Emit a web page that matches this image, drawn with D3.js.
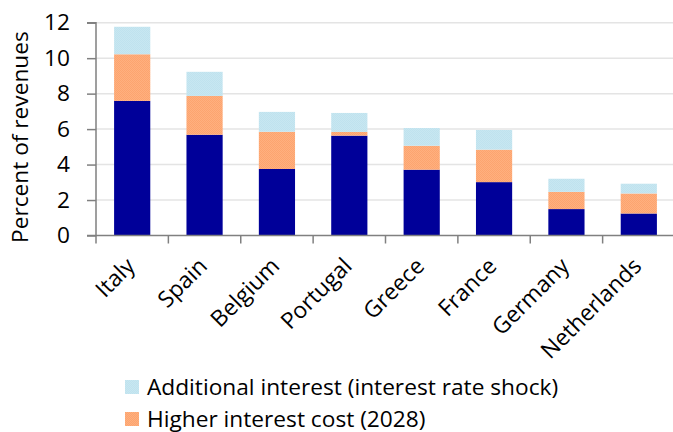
<!DOCTYPE html>
<html>
<head>
<meta charset="utf-8">
<script src="https://cdn.jsdelivr.net/npm/d3@7"></script>
<style>
  body { margin: 0; background: #fff; }
  svg { display: block; font-family: "Open Sans", "Noto Sans", sans-serif; }
</style>
</head>
<body>
<svg id="chart" width="673" height="432"></svg>
<script>
// Interest burden as a share of revenues, by country
const countries = ["Italy", "Spain", "Belgium", "Portugal", "Greece", "France", "Germany", "Netherlands"];
const currentInterest = [7.59, 5.68, 3.75, 5.63, 3.71, 3.01, 1.49, 1.24];
const higherCost2028 = [2.63, 2.19, 2.10, 0.21, 1.35, 1.83, 0.97, 1.13];
const additionalShock = [1.55, 1.36, 1.12, 1.07, 1.00, 1.11, 0.74, 0.55];
const yTicks = [0, 2, 4, 6, 8, 10, 12];
const legendLabels = ["Additional interest (interest rate shock)", "Higher interest cost (2028)"];

const svg = d3.select("#chart");
const W = 673, H = 432;
const plotLeft = 96, plotRight = 675, plotTop = 22.7, plotBottom = 235.5;
const FS = 22.7;

const x = d3.scaleBand().domain(countries).range([plotLeft, plotRight]).paddingInner(0.5).paddingOuter(0.25);
const y = d3.scaleLinear().domain([0, 12]).range([plotBottom, plotTop]);

// Dithered fills
const defs = svg.append("defs");
function dither(id, a, b) {
  const p = defs.append("pattern").attr("id", id).attr("width", 2).attr("height", 2)
    .attr("patternUnits", "userSpaceOnUse");
  p.append("rect").attr("width", 2).attr("height", 2).attr("fill", a);
  p.append("rect").attr("width", 1).attr("height", 1).attr("fill", b);
  p.append("rect").attr("x", 1).attr("y", 1).attr("width", 1).attr("height", 1).attr("fill", b);
}
dither("ditherCyan", "#c8e7f1", "#bfe2ee");
dither("ditherOrange", "#ffb07f", "#fca46f");

// Gridlines
svg.append("g").selectAll("line").data(yTicks.filter(d => d > 0)).join("line")
  .attr("x1", plotLeft).attr("x2", W)
  .attr("y1", d => y(d)).attr("y2", d => y(d))
  .attr("stroke", "#e4e4e4").attr("stroke-width", 1.5);

// Stacked bars
const stackData = countries.map((c, i) => ({
  country: c, base: currentInterest[i], higher: higherCost2028[i], shock: additionalShock[i]
}));
const series = d3.stack().keys(["base", "higher", "shock"])(stackData);
const fills = { base: "#000099", higher: "url(#ditherOrange)", shock: "url(#ditherCyan)" };

svg.append("g").selectAll("g").data(series).join("g")
  .attr("fill", s => fills[s.key])
  .selectAll("rect").data(s => s).join("rect")
  .attr("x", d => x(d.data.country))
  .attr("width", x.bandwidth())
  .attr("y", d => y(d[1]))
  .attr("height", d => y(d[0]) - y(d[1]));

// Y axis
const yAxis = d3.axisLeft(y).tickValues(yTicks).tickSize(9).tickPadding(17).tickFormat(d3.format("d"));
const gy = svg.append("g").attr("transform", `translate(${plotLeft},0)`).call(yAxis);
gy.select(".domain").attr("stroke", "#808080").attr("stroke-width", 1.5).attr("d", `M-9,${plotTop}H0V${plotBottom}H-9`);
gy.selectAll(".tick line").attr("stroke", "#808080").attr("stroke-width", 1.5);
gy.selectAll(".tick text").attr("font-size", FS).attr("fill", "#000").attr("font-family", "'Open Sans', sans-serif");

// X axis baseline and band separators
const step = x.step();
const xg = svg.append("g");
xg.append("line").attr("x1", plotLeft).attr("x2", W).attr("y1", plotBottom).attr("y2", plotBottom)
  .attr("stroke", "#808080").attr("stroke-width", 1.5);
xg.selectAll("line.sep").data(countries).join("line").attr("class", "sep")
  .attr("x1", d => x(d) - step * 0.25).attr("x2", d => x(d) - step * 0.25)
  .attr("y1", plotBottom).attr("y2", plotBottom + 8)
  .attr("stroke", "#808080").attr("stroke-width", 1.5);

// Rotated country labels
xg.selectAll("text").data(countries).join("text")
  .attr("transform", d => `translate(${x(d) + x.bandwidth() / 2 + 4},${plotBottom + 32}) rotate(-45)`)
  .attr("text-anchor", "end")
  .attr("font-size", FS)
  .attr("fill", "#000")
  .text(d => d);

// Y axis title
svg.append("text")
  .attr("transform", `translate(28,${(plotTop + plotBottom) / 2 + 8}) rotate(-90)`)
  .attr("text-anchor", "middle")
  .attr("font-size", FS)
  .attr("fill", "#000")
  .text("Percent of revenues");

// Legend
const legendFills = ["url(#ditherCyan)", "url(#ditherOrange)"];
const lg = svg.append("g").selectAll("g").data(legendLabels).join("g")
  .attr("transform", (d, i) => `translate(125,${380 + i * 32})`);
lg.append("rect").attr("width", 14).attr("height", 14).attr("fill", (d, i) => legendFills[i]);
lg.append("text").attr("x", 22).attr("y", 14.5).attr("font-size", FS).attr("fill", "#000").text(d => d);
</script>
</body>
</html>
